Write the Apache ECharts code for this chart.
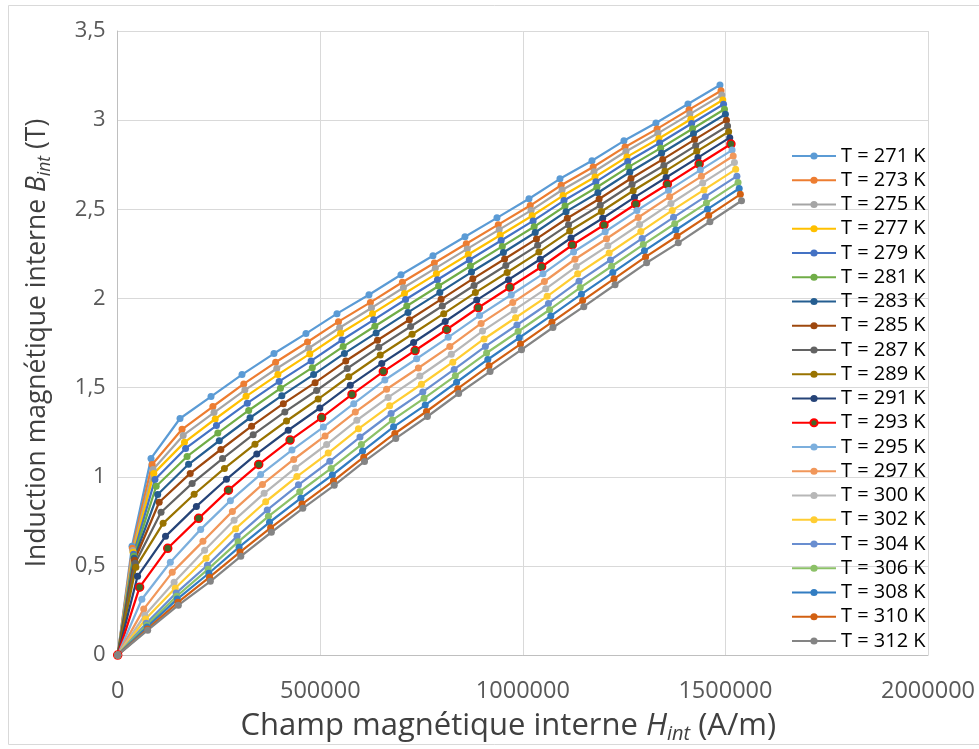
<!DOCTYPE html>
<html>
<head>
<meta charset="utf-8">
<script src="https://cdn.jsdelivr.net/npm/echarts@6/dist/echarts.min.js"></script>
<style>
html,body{margin:0;padding:0;background:#fff;overflow:hidden;}
#c{width:979px;height:749px;}
</style>
</head>
<body>
<div id="c"></div>
<script>
// Temperatures (legend)
const temps = [271,273,275,277,279,281,283,285,287,289,291,293,295,297,300,302,304,306,308,310,312];
// Axis ticks
const xTicks = [0, 500000, 1000000, 1500000, 2000000];
const yTicks = [0, 0.5, 1, 1.5, 2, 2.5, 3, 3.5];

// H_int (A/m) and B_int (T) for each temperature
const h271 = [0,35300,82200,153800,230300,306800,385700,464700,541200,620200,699200,778100,857100,936100,1015100,1091600,1170600,1249500,1328500,1407500,1486500];
const b271 = [0,0.610,1.103,1.327,1.450,1.573,1.691,1.803,1.915,2.021,2.133,2.240,2.346,2.452,2.559,2.671,2.772,2.884,2.984,3.091,3.197];
const h273 = [0,36200,85000,158800,234900,311100,389800,468500,544900,623700,702700,781500,860300,939300,1018200,1094500,1173500,1252300,1331200,1410200,1489100];
const b273 = [0,0.599,1.069,1.266,1.394,1.521,1.642,1.756,1.870,1.978,2.091,2.199,2.307,2.414,2.521,2.635,2.737,2.850,2.951,3.059,3.165];
const h275 = [0,37100,87300,161600,237700,313900,392600,471400,547700,626300,705200,783900,862700,941600,1020400,1096800,1175600,1254400,1333200,1412200,1491100];
const b275 = [0,0.587,1.041,1.232,1.360,1.486,1.607,1.721,1.836,1.947,2.060,2.169,2.278,2.386,2.494,2.608,2.711,2.824,2.926,3.034,3.141];
const h277 = [0,38000,89100,164800,240700,316800,395400,474100,550200,628900,707800,786500,865200,944000,1022900,1099300,1178100,1256800,1335700,1414500,1493400];
const b277 = [0,0.577,1.019,1.193,1.324,1.451,1.573,1.689,1.805,1.915,2.028,2.138,2.247,2.355,2.464,2.577,2.681,2.794,2.897,3.005,3.113];
const h279 = [0,39000,91900,167600,243700,319900,398500,477300,553400,631800,710600,789200,867800,946500,1025300,1101600,1180300,1259000,1337700,1416600,1495400];
const b279 = [0,0.565,0.985,1.159,1.287,1.413,1.535,1.650,1.767,1.880,1.994,2.105,2.216,2.325,2.435,2.549,2.654,2.768,2.872,2.981,3.089];
const h281 = [0,39900,95000,171300,247100,323300,401700,480300,556400,634700,713500,792000,870600,949300,1027900,1104100,1182700,1261400,1340100,1418900,1497700];
const b281 = [0,0.554,0.947,1.114,1.245,1.372,1.496,1.612,1.730,1.844,1.958,2.070,2.182,2.292,2.402,2.518,2.624,2.738,2.843,2.952,3.061];
const h283 = [0,40800,98700,174900,250700,326700,405100,483500,559500,637800,716500,795000,873300,952000,1030600,1106700,1185200,1263900,1342400,1421200,1500000];
const b283 = [0,0.543,0.901,1.070,1.202,1.331,1.455,1.573,1.692,1.807,1.922,2.034,2.148,2.258,2.370,2.487,2.593,2.708,2.814,2.924,3.033];
const h285 = [0,41700,102400,179000,254600,330500,408800,487200,563000,641200,719900,798200,876400,955000,1033600,1109700,1188200,1266800,1345200,1423900,1502600];
const b285 = [0,0.532,0.857,1.019,1.153,1.284,1.410,1.528,1.649,1.766,1.881,1.995,2.110,2.221,2.334,2.450,2.558,2.673,2.780,2.891,3.000];
const h287 = [0,43100,107000,183700,258800,334400,412500,490900,566500,644300,723000,801200,879500,958000,1036500,1112700,1191000,1269600,1348000,1426700,1505300];
const b287 = [0,0.515,0.801,0.963,1.102,1.236,1.364,1.484,1.607,1.727,1.843,1.958,2.073,2.185,2.298,2.414,2.523,2.639,2.746,2.857,2.967];
const h289 = [0,44900,112000,188700,263400,338800,416700,494800,570200,648000,726600,804700,882800,961200,1039600,1115600,1193900,1272400,1350700,1429300,1507900];
const b289 = [0,0.493,0.739,0.902,1.047,1.183,1.313,1.436,1.561,1.683,1.799,1.915,2.033,2.146,2.260,2.378,2.488,2.604,2.713,2.825,2.935];
const h291 = [0,49000,118000,194200,268400,343300,420900,498900,574100,651800,730400,808400,886200,964600,1042900,1118800,1197000,1275500,1353600,1432200,1510700];
const b291 = [0,0.442,0.666,0.834,0.986,1.128,1.261,1.386,1.514,1.636,1.753,1.871,1.991,2.105,2.220,2.339,2.450,2.567,2.678,2.790,2.902];
const h293 = [0,54100,123500,199700,273400,348100,425500,503300,578300,655600,734100,812000,889800,968000,1046300,1122100,1200100,1278600,1356600,1435100,1513600];
const b293 = [0,0.381,0.599,0.767,0.925,1.069,1.206,1.332,1.462,1.590,1.708,1.826,1.948,2.063,2.178,2.300,2.412,2.530,2.641,2.754,2.866];
const h295 = [0,59600,129900,204800,278200,352800,430100,507700,582600,659400,737900,815700,893200,971400,1049600,1125200,1203200,1281600,1359500,1438000,1516400];
const b295 = [0,0.313,0.521,0.705,0.866,1.013,1.150,1.279,1.410,1.543,1.662,1.782,1.905,2.021,2.138,2.261,2.374,2.493,2.606,2.720,2.832];
const h297 = [0,64200,134600,210400,283100,357300,434400,511800,586500,663700,742100,819800,897000,975100,1053200,1128600,1206500,1284800,1362300,1440800,1519200];
const b297 = [0,0.258,0.464,0.638,0.806,0.957,1.097,1.229,1.363,1.491,1.610,1.731,1.860,1.977,2.095,2.220,2.335,2.454,2.571,2.685,2.799];
const h300 = [0,66900,139200,214500,287300,361400,438400,515700,590300,667500,745800,823400,900500,978500,1056500,1131900,1209700,1288000,1365500,1443900,1522200];
const b300 = [0,0.224,0.408,0.588,0.756,0.907,1.049,1.181,1.317,1.445,1.565,1.687,1.817,1.935,2.054,2.179,2.295,2.415,2.533,2.648,2.762];
const h302 = [0,68800,141900,218100,291100,365300,442300,519600,594200,671300,749600,827100,904100,982000,1060000,1135300,1213000,1291200,1368700,1447000,1525300];
const b302 = [0,0.202,0.375,0.543,0.709,0.860,1.001,1.133,1.269,1.398,1.519,1.643,1.773,1.892,2.012,2.138,2.255,2.375,2.494,2.609,2.724];
const h304 = [0,70600,144200,221400,294600,369100,446100,523500,598000,674800,753100,830500,907500,985400,1063200,1138600,1216200,1294400,1371900,1450200,1528400];
const b304 = [0,0.179,0.348,0.504,0.666,0.814,0.955,1.087,1.223,1.355,1.476,1.602,1.731,1.851,1.972,2.097,2.216,2.337,2.455,2.571,2.686];
const h306 = [0,71500,145600,223200,297200,372000,449300,526800,601400,677800,756100,833400,910500,988300,1066100,1141600,1219100,1297200,1374800,1453100,1531200];
const b306 = [0,0.168,0.330,0.482,0.635,0.778,0.916,1.047,1.181,1.318,1.440,1.566,1.694,1.815,1.937,2.061,2.181,2.302,2.419,2.535,2.651];
const h308 = [0,72400,146900,225000,299600,374700,452200,529800,604400,680900,759100,836400,913500,991200,1069000,1144600,1222000,1300100,1377700,1455900,1534000];
const b308 = [0,0.157,0.314,0.459,0.605,0.745,0.880,1.010,1.144,1.280,1.402,1.530,1.658,1.780,1.902,2.024,2.145,2.267,2.384,2.501,2.617];
const h310 = [0,73300,148400,226800,301800,377300,454900,532500,607200,684000,762100,839300,916500,994200,1071800,1147600,1224900,1302900,1380600,1458700,1536800];
const b310 = [0,0.146,0.296,0.437,0.578,0.714,0.847,0.977,1.110,1.243,1.366,1.494,1.622,1.744,1.867,1.988,2.110,2.233,2.349,2.466,2.584];
const h312 = [0,74000,149700,228700,303800,379300,456900,534500,609200,686300,764400,841500,919100,996700,1074300,1150400,1227600,1305600,1383600,1461700,1539700];
const b312 = [0,0.140,0.280,0.414,0.554,0.689,0.823,0.952,1.086,1.215,1.338,1.467,1.590,1.713,1.837,1.954,2.077,2.200,2.312,2.430,2.548];

const hData = [h271,h273,h275,h277,h279,h281,h283,h285,h287,h289,h291,h293,h295,h297,h300,h302,h304,h306,h308,h310,h312];
const bData = [b271,b273,b275,b277,b279,b281,b283,b285,b287,b289,b291,b293,b295,b297,b300,b302,b304,b306,b308,b310,b312];

const colors = ['#5B9BD5','#ED7D31','#A5A5A5','#FFC000','#4472C4','#70AD47','#255E91','#9E480E','#636363','#997300',
                '#264478','#FF0000','#7CAFDD','#F1975A','#B7B7B7','#FFCD33','#698ED0','#8CC168','#327DC2','#D26012','#848484'];

const FONT = 'Open Sans';
const series = temps.map((t, i) => {
  const isRed = t === 293;
  return {
    name: 'T = ' + t + ' K',
    type: 'line',
    data: hData[i].map((h, j) => [h, bData[i][j]]),
    symbol: 'circle',
    symbolSize: isRed ? 8 : 7,
    showSymbol: true,
    lineStyle: { width: 2.25, color: colors[i] },
    itemStyle: isRed ? { color: '#43682B', borderColor: '#FF0000', borderWidth: 1.5 } : { color: colors[i], borderWidth: 0 },
    emphasis: { disabled: true },
    z: 2
  };
});

const el = document.getElementById('c');
const chart = echarts.init(el, null, { renderer: 'canvas', width: 979, height: 749 });
chart.setOption({
  animation: false,
  backgroundColor: '#fff',
  graphic: [{
    type: 'rect', shape: { x: 8.5, y: 5.5, width: 1000, height: 739 },
    style: { fill: 'none', stroke: '#D9D9D9', lineWidth: 1 }, silent: true, z: -10
  }],
  grid: { left: 117.7, top: 31, width: 810.3, height: 625, containLabel: false },
  legend: {
    orient: 'vertical',
    left: 786, top: 141,
    itemWidth: 44, itemHeight: 9, itemGap: 4.25,
    textStyle: { fontFamily: FONT, fontSize: 20, color: '#000', lineHeight: 16 },
    data: temps.map(t => 'T = ' + t + ' K'),
    backgroundColor: 'transparent',
    selectedMode: false
  },
  xAxis: {
    type: 'value', min: xTicks[0], max: xTicks[xTicks.length-1], interval: xTicks[1]-xTicks[0],
    axisLine: { show: true, lineStyle: { color: '#BFBFBF', width: 1 } },
    axisTick: { show: false },
    splitLine: { show: true, lineStyle: { color: '#D9D9D9', width: 1 } },
    axisLabel: { fontFamily: FONT, fontSize: 23.5, color: '#595959', margin: 24, formatter: v => String(v) },
    name: '{n|Champ magnétique interne }{i|H}{s|int}{n| (A/m)}',
    nameLocation: 'middle', nameGap: 45,
    nameTextStyle: {
      padding: [0, 29, 0, 0],
      rich: {
        n: { fontFamily: FONT, fontSize: 31, color: '#404040', lineHeight: 38 },
        i: { fontFamily: FONT, fontSize: 31, color: '#404040', fontStyle: 'italic', lineHeight: 38 },
        s: { fontFamily: FONT, fontSize: 20, color: '#404040', fontStyle: 'italic', lineHeight: 38, padding: [16, 0, 0, 0] }
      }
    }
  },
  yAxis: {
    type: 'value', min: yTicks[0], max: yTicks[yTicks.length-1], interval: yTicks[1]-yTicks[0],
    axisLine: { show: true, lineStyle: { color: '#BFBFBF', width: 1 } },
    axisTick: { show: false },
    splitLine: { show: true, lineStyle: { color: '#D9D9D9', width: 1 } },
    axisLabel: { fontFamily: FONT, fontSize: 22, color: '#595959', margin: 12, formatter: v => String(v).replace('.', ',') },
    name: '{n|Induction magnétique interne }{i|B}{s|int}{n| (T)}',
    nameLocation: 'middle', nameGap: 63,
    nameTextStyle: {
      rich: {
        n: { fontFamily: FONT, fontSize: 26.5, color: '#404040', lineHeight: 34 },
        i: { fontFamily: FONT, fontSize: 26.5, color: '#404040', fontStyle: 'italic', lineHeight: 34 },
        s: { fontFamily: FONT, fontSize: 17.5, color: '#404040', fontStyle: 'italic', lineHeight: 34, padding: [14, 0, 0, 0] }
      }
    }
  },
  series: series
});
</script>
</body>
</html>
